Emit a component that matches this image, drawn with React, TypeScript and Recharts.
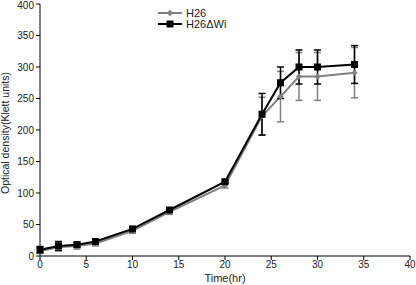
import React from 'react';
import { LineChart, Line, XAxis, YAxis, ErrorBar } from 'recharts';

const timeHr = [0, 2, 4, 6, 10, 14, 20, 24, 26, 28, 30, 34];
const h26 = [8, 14, 16, 20, 40, 70, 112, 222, 253, 285, 285, 291];
const h26Err = [4, 6, 5, 4, 4, 4, 4, 30, 40, 38, 38, 40];
const h26dWi = [10, 16, 18, 23, 43, 73, 118, 225, 275, 300, 300, 304];
const h26dWiErr = [5, 7, 4, 3, 3, 3, 2, 33, 25, 27, 27, 30];
const xTicks = [0, 5, 10, 15, 20, 25, 30, 35, 40];
const yTicks = [0, 50, 100, 150, 200, 250, 300, 350, 400];

const data = timeHr.map((t, i) => ({
  t,
  h26: h26[i],
  h26Err: h26Err[i],
  wi: h26dWi[i],
  wiErr: h26dWiErr[i],
}));

const FONT = 'Liberation Sans, Arial, sans-serif';

const Diamond = (props: any) => {
  const { cx, cy } = props;
  if (cx == null || cy == null) return null;
  const r = 3.2;
  return <path d={`M${cx},${cy - r}L${cx + r},${cy}L${cx},${cy + r}L${cx - r},${cy}Z`} fill="#808080" stroke="none" />;
};

const Square = (props: any) => {
  const { cx, cy } = props;
  if (cx == null || cy == null) return null;
  const s = 7;
  return <rect x={cx - s / 2} y={cy - s / 2} width={s} height={s} fill="#000" />;
};

export default function App() {
  return (
    <div style={{ position: 'absolute', left: 0, top: 0, width: 416, height: 285, background: '#fff' }}>
      <LineChart width={416} height={285} data={data} margin={{ top: 4, right: 6, left: 20, bottom: 0 }}>
        <XAxis
          dataKey="t"
          type="number"
          domain={[0, 40]}
          ticks={xTicks}
          height={29}
          stroke="#000"
          tickSize={4}
          tick={{ fontSize: 10, fill: '#222', fontFamily: FONT }}
          tickMargin={1}
        />
        <YAxis
          type="number"
          domain={[0, 400]}
          ticks={yTicks}
          width={20}
          stroke="#000"
          tickSize={4}
          tick={{ fontSize: 10, fill: '#222', fontFamily: FONT }}
          tickMargin={2}
        />
        <Line
          dataKey="h26"
          stroke="#808080"
          strokeWidth={2}
          dot={<Diamond />}
          isAnimationActive={false}
        >
          <ErrorBar dataKey="h26Err" width={3.5} stroke="#808080" strokeWidth={1.5} direction="y" />
        </Line>
        <Line
          dataKey="wi"
          stroke="#000"
          strokeWidth={2}
          dot={<Square />}
          isAnimationActive={false}
        >
          <ErrorBar dataKey="wiErr" width={3.5} stroke="#000" strokeWidth={1.5} direction="y" />
        </Line>
      </LineChart>
      <svg style={{ position: 'absolute', left: 0, top: 0 }} width={416} height={285} pointerEvents="none">
        <line x1={158} x2={182} y1={13} y2={13} stroke="#808080" strokeWidth={2} />
        <path d="M170,9.8L173.2,13L170,16.2L166.8,13Z" fill="#808080" />
        <text x={186} y={17} fontSize={11} fontFamily={FONT} fill="#222">H26</text>
        <line x1={158} x2={182} y1={24} y2={24} stroke="#000" strokeWidth={2} />
        <rect x={166.5} y={20.5} width={7} height={7} fill="#000" />
        <text x={186} y={28} fontSize={11} fontFamily={FONT} fill="#222">H26ΔWi</text>
        <text x={225} y={282} fontSize={11} fontFamily={FONT} fill="#222" textAnchor="middle">Time(hr)</text>
        <text
          x={0}
          y={0}
          transform="translate(9,133) rotate(-90)"
          fontSize={10.5}
          fontFamily={FONT}
          fill="#222"
          textAnchor="middle"
        >
          Optical density(Klett units)
        </text>
      </svg>
    </div>
  );
}
